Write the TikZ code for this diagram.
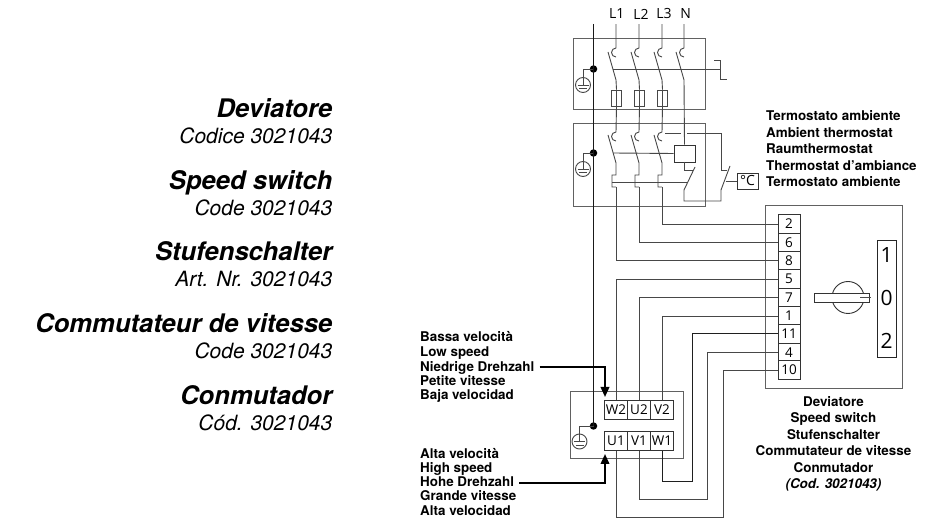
\documentclass[tikz,border=0pt]{standalone}
\usepackage{fontspec}
\setmainfont{TeX Gyre Heros}
\newfontfamily\cadfont{Open Sans}
\usetikzlibrary{arrows.meta}
\tikzset{
  wire/.style={draw=black!72,line width=0.9pt,line join=miter},
  bus/.style={draw=black!90,line width=1.1pt},
  frame/.style={draw=black!62,line width=1pt},
  dot/.style={circle,fill=black,inner sep=0pt,minimum size=7.5pt},
  term/.style={draw=black!80,line width=0.9pt,fill=white,inner sep=0pt,minimum width=23pt,minimum height=18.2pt,font=\cadfont\fontsize{13.5}{13.5}\selectfont},
  strip/.style={term,minimum width=22pt},
  fuse/.style={draw=black!72,line width=0.9pt,inner sep=0pt,minimum width=9.3pt,minimum height=16pt},
  gnd/.style={circle,draw=black!72,line width=0.9pt,inner sep=0pt,minimum size=15pt},
  phase/.style={font=\cadfont\fontsize{14}{14}\selectfont,inner sep=0pt,minimum height=20pt},
  small/.style={font=\bfseries\fontsize{13.4}{14}\selectfont,inner sep=0pt},
  smallw/.style={small,anchor=base west},
  smallc/.style={small,anchor=base},
  big/.style={font=\bfseries\itshape\fontsize{25.6}{26}\selectfont,anchor=base east,inner sep=0pt},
  sub/.style={font=\itshape\fontsize{21}{22}\selectfont,anchor=base east,inner sep=0pt},
  pointer/.style={draw=black,line width=2pt,-{Triangle[length=10pt,width=8.5pt]}},
}
\begin{document}
\begin{tikzpicture}[x=1pt,y=-1pt]
\useasboundingbox (0,0) rectangle (932,518);
\fill[white] (0,0) rectangle (932,518);

% left titles
\foreach \a/\b/\y [count=\i] in {Deviatore/Codice 3021043/118,Speed switch/Code 3021043/190,Stufenschalter/Art. Nr. 3021043/261,Commutateur de vitesse/Code 3021043/333,Conmutador/Cód. 3021043/405}{
  \node[big] (title\i) at (332.5,\y) {\a};
  \node[sub] (code\i) at (332.5,\y+25.5) {\b};
}

% frames
\node[frame,minimum width=132pt,minimum height=71pt,inner sep=0pt] (boxA) at (639,74.5) {};
\node[frame,minimum width=132pt,minimum height=83pt,inner sep=0pt] (boxB) at (639,165.5) {};
\node[frame,minimum width=113pt,minimum height=67pt,inner sep=0pt] (boxC) at (626.5,425.5) {};
\node[frame,minimum width=137pt,minimum height=183pt,inner sep=0pt] (boxS) at (833.5,297.5) {};

% phase labels (text sits slightly right of its wire)
\foreach \n/\x/\k in {L1/616/1.4pt,L2/639/4pt,L3/662/4pt,N/684/3.4pt}{
  \node[phase] (lab\n) at (\x,14) {\hspace*{\k}\n};
}

% terminals of the speed switch
\foreach \n/\y in {2/224,6/242.4,8/260.6,5/279,7/297.5,1/316,11/334,4/352.2,10/370}{
  \node[strip] (t\n) at (789,\y) {\n};
}
% terminals of the motor
\foreach \n/\x in {W2/616,U2/639,V2/662}{
  \node[term] (\n) at (\x,410) {\n};
}
\foreach \n/\x in {U1/616,V1/639,W1/662}{
  \node[term] (\n) at (\x,441) {\n};
}

% earth symbols
\node[dot] (dotA) at (593.5,69) {};
\node[dot] (dotB) at (593.5,153) {};
\node[dot] (dotC) at (593.5,426) {};
\node[gnd] (gndA) at (583,85) {};
\node[gnd] (gndB) at (583,169) {};
\node[gnd] (gndC) at (579.5,441.5) {};
\foreach \g/\d in {gndA/dotA,gndB/dotB,gndC/dotC}{
  \draw[wire] (\d.center) -| (\g.north);
  \draw[wire] (\g.north) -- (\g.center);
  \draw[wire] ([xshift=-5.5pt]\g.center) -- ([xshift=5.5pt]\g.center);
  \draw[wire] ([xshift=-4pt,yshift=-3.5pt]\g.center) -- ([xshift=4pt,yshift=-3.5pt]\g.center);
}
\coordinate (busTop) at (593.5,24);
\draw[bus] (busTop) -- (dotC.center);

% fuses and contacts, upper frame and lower frame
\foreach \n/\x in {L1/616,L2/639,L3/662}{
  \node[fuse] (fuse\n) at (\x+.5,98) {};
  \coordinate (jogT\n) at (\x,175);
  \coordinate (jogB\n) at (\x,187);
  \draw[wire] (lab\n.south) -- (\x,48) arc[start angle=90,end angle=270,radius=4.5pt];
  \draw[wire] (\x-8,52) -- (\x,80) -- (fuse\n.north);
  \draw[wire] (fuse\n.north) -- (fuse\n.south) -- (\x,132) arc[start angle=90,end angle=270,radius=4.5pt];
  \draw[wire] (\x-8,135) -- (\x,163) -- (jogT\n) -- ++(-4,0) -- ++(0,12) -- (jogB\n);
}
\draw[wire] (labN.south) -- (684,48) arc[start angle=90,end angle=270,radius=4.5pt];

% relay
\node[draw=black!80,line width=0.9pt,inner sep=0pt,minimum width=21pt,minimum height=17pt] (relay) at (684.5,153.5) {};
\draw[wire] (676,52) -- (684,80) -- (relay.north);
\draw[wire] (613,153) -- (relay.west);
\draw[wire] (684,162) -- (684,170) -- (693,170);
\draw[wire] (695,167) -- (684,190) -- (684,201) -| (721,190);
\draw[wire] (612,182) -- (688,182);

% breaker trip line
\draw[wire] (613,69) -- (720,69);
\draw[wire] (714,60) -- (720,60) -- (720,79) -- (727,79);

% thermostat
\node[draw=black!80,line width=0.9pt,inner sep=0pt,minimum width=21pt,minimum height=16pt,font=\cadfont\fontsize{14}{14}\selectfont] (thermo) at (747.5,181) {°C};
\draw[wire] (665,133) -- (681,133);
\draw[wire] (687,133) -- (721,133) -- (721,170) -- (727,170);
\draw[wire] (730,166) -- (721,190);
\draw[wire] (725.5,181) -- (thermo.west);

% wiring to the speed switch
\draw[wire] (t2.west) -| (jogBL3);
\draw[wire] (t6.west) -| (jogBL2);
\draw[wire] (t8.west) -| (jogBL1);
\draw[wire] (t5.west) -| (W2.north);
\draw[wire] (t7.west) -| (U2.north);
\draw[wire] (t1.west) -| (V2.north);
\coordinate (cW) at (692,481);
\coordinate (cV) at (707.5,499);
\coordinate (cU) at (723,517);
\draw[draw=black!88,line width=1pt] (t11.west) -| (cW) -| (W1.south);
\draw[wire] (t4.west) -| (cV) -| (V1.south);
\draw[wire] (t10.west) -| (cU) -| (U1.south);

% selector
\draw[draw=black!80,line width=0.9pt] (848,297.5) circle[radius=16pt];
\node[draw=black!80,line width=0.9pt,fill=white,inner sep=0pt,minimum width=55pt,minimum height=9pt] (handle) at (841.5,297.5) {};
\draw[draw=black!70,line width=0.8pt] (860,297.5) -- (871,297.5);
\node[draw=black!85,line width=0.9pt,inner sep=0pt,minimum width=19pt,minimum height=117pt] (scale) at (886.5,298.5) {};
\foreach \n/\y in {1/255,0/298,2/341}{
  \node[font=\cadfont\fontsize{21}{21}\selectfont,inner sep=0pt] (pos\n) at (886.5,\y) {\n};
}

% texts
\foreach \t/\y [count=\i] in {Termostato ambiente/121,Ambient thermostat/137.5,Raumthermostat/154,Thermostat d’ambiance/170.5,Termostato ambiente/187}{
  \node[smallw] (thermotext\i) at (766,\y) {\t};
}
\foreach \t/\y [count=\i] in {Bassa velocità/342,Low speed/357,Niedrige Drehzahl/371.5,Petite vitesse/385.5,Baja velocidad/399.5}{
  \node[smallw] (low\i) at (420,\y) {\t};
}
\foreach \t/\y [count=\i] in {Alta velocità/458,High speed/472.5,Hohe Drehzahl/486.5,Grande vitesse/500.5,Alta velocidad/515}{
  \node[smallw] (high\i) at (420,\y) {\t};
}
\foreach \t/\y [count=\i] in {Deviatore/407,Speed switch/423,Stufenschalter/439.5,Commutateur de vitesse/456,Conmutador/472}{
  \node[smallc] (devtext\i) at (833.5,\y) {\t};
}
\node[smallc,font=\bfseries\itshape\fontsize{13.4}{14}\selectfont] (devcode) at (833.5,488.5) {(Cod. 3021043)};

% pointers
\coordinate (lowEnd) at (605,397);
\coordinate (highEnd) at (605,454);
\draw[pointer] ([xshift=5pt,yshift=4.5pt]low3.base east) -| (lowEnd);
\draw[pointer] ([xshift=5pt,yshift=3.5pt]high3.base east) -| (highEnd);
\end{tikzpicture}
\end{document}
